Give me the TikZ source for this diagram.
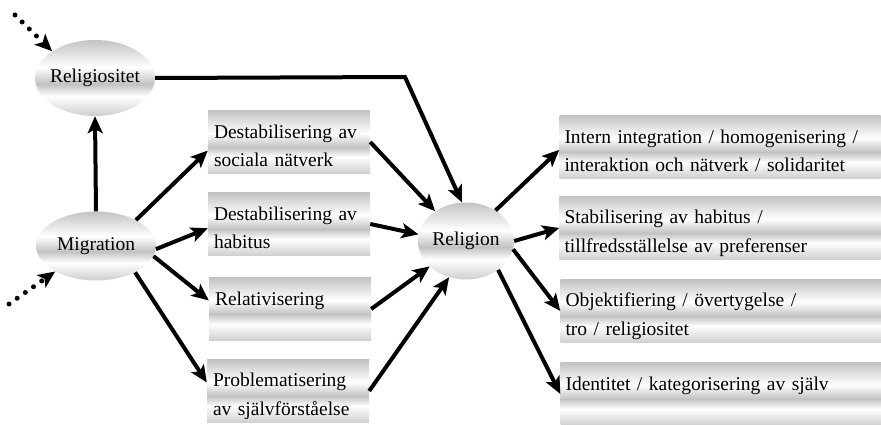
\documentclass[tikz,border=0pt]{standalone}
\usepackage{fontspec}
\setmainfont{Liberation Serif}
\usetikzlibrary{arrows.meta, shapes.geometric}
\pgfdeclareverticalshading{bar}{100bp}{color(0bp)=(black!56); color(38bp)=(white); color(46bp)=(black!24); color(57bp)=(white); color(100bp)=(black!56)}
\newcommand\bstrut{\rule[-2.5pt]{0pt}{26pt}}

\begin{document}
\begin{tikzpicture}[x=1pt, y=-1pt,
  font=\fontsize{19.5}{26}\selectfont,
  oval/.style={ellipse, shading=bar, inner sep=0pt},
  midbox/.style={rectangle, shading=bar, inner xsep=6pt, inner ysep=0pt,
    text width=150pt, minimum height=63pt, align=left},
  resbox/.style={rectangle, shading=bar, inner xsep=5pt, inner ysep=0pt,
    text width=311pt, minimum height=63pt, align=left},
  arr/.style={-{Stealth[length=17pt, width=15pt, inset=4pt]}, line width=4pt},
  dots/.style={arr, line width=5pt, line cap=round, dash pattern=on 0pt off 10pt}]
  \useasboundingbox (0,0) rectangle (881,425);

  % ovals
  \node[oval, minimum width=120pt, minimum height=76pt,
    label=center:{Religiositet}] (relgs) at (95,78) {};
  \node[oval, minimum width=120pt, minimum height=69pt,
    label=center:{Migration}] (mig) at (96,246) {};
  \node[oval, minimum width=96pt, minimum height=77pt,
    label=center:{Religion}] (rel) at (466,241) {};

  % mechanisms
  \node[midbox] (mb1) at (289,142) {\bstrut Destabilisering av\\\bstrut sociala nätverk};
  \node[midbox] (mb2) at (289,224) {\bstrut Destabilisering av\\\bstrut habitus};
  \node[midbox] (mb3) at (290,309) {\bstrut Relativisering\\\bstrut};
  \node[midbox] (mb4) at (288,391) {\bstrut Problematisering\\\bstrut av självförståelse};

  % outcomes
  \node[resbox] (rb1) at (720,147) {\bstrut Intern integration / homogenisering /\\\bstrut interaktion och nätverk / solidaritet};
  \node[resbox] (rb2) at (720,228) {\bstrut Stabilisering av habitus /\\\bstrut tillfredsställelse av preferenser};
  \node[resbox] (rb3) at (721,311) {\bstrut Objektifiering / övertygelse /\\\bstrut tro / religiositet};
  \node[resbox] (rb4) at (721,394) {\bstrut Identitet / kategorisering av själv\\\bstrut};

  % outside influences
  \coordinate (in1) at (15,15);
  \coordinate (in2) at (9,304);
  \coordinate (bend) at (405,77);
  \draw[dots] (in1) -- (relgs.148);
  \draw[dots] (in2) -- (mig.212);

  \draw[arr] (mig.north) -- (relgs.south);
  \draw[arr] (relgs.east) -- (bend) -- (rel.96);

  \draw[arr] (mig.33) -- (mb1.186);
  \draw[arr] (mig.357) -- (mb2.183);
  \draw[arr] (mig.350) -- (mb3.174);
  \draw[arr] (mig.326) -- (mb4.174);

  \draw[arr] (mb1.east) -- (rel.136);
  \draw[arr] (mb2.east) -- (rel.172);
  \draw[arr] (mb3.east) -- (rel.215);
  \draw[arr] (mb4.east) -- (rel.245);

  \draw[arr] (rel.46) -- (rb1.181);
  \draw[arr] (rel.east) -- (rb2.west);
  \draw[arr] (rel.350) -- (rb3.west);
  \draw[arr] (rel.318) -- (rb4.west);
\end{tikzpicture}
\end{document}
